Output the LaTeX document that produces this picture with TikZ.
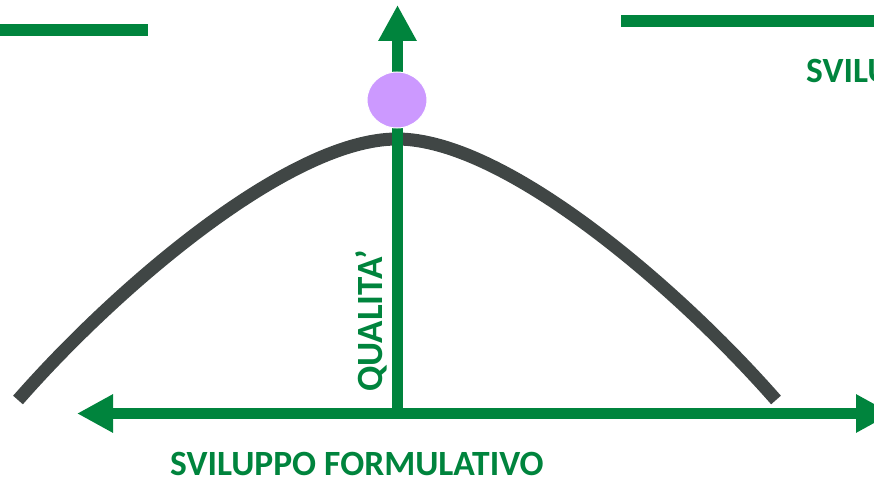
\documentclass[tikz,border=0pt]{standalone}
\usepackage{fontspec}
\setmainfont{Carlito}
\usetikzlibrary{arrows.meta,shapes.geometric}
\definecolor{dgreen}{RGB}{0,132,61}
\definecolor{dgray}{RGB}{64,70,69}
\definecolor{lilac}{RGB}{204,153,255}
\tikzset{
  greenbar/.style={draw=dgreen, line width=12pt},
  axisarrow/.style={draw=dgreen, line width=11pt, -{Triangle[length=36pt,width=36pt]}},
  curveline/.style={draw=dgray, line width=13pt},
  labeltext/.style={text=dgreen, font=\bfseries\fontsize{35.5}{35.5}\selectfont, inner sep=0pt},
}
\begin{document}
\begin{tikzpicture}[x=1pt,y=-1pt]
\useasboundingbox (0,0) rectangle (874,484);
\clip (0,0) rectangle (874,484);
% top bars
\coordinate (tl1) at (0,30);
\coordinate (tl2) at (148,30);
\coordinate (tr1) at (621,21);
\coordinate (tr2) at (874,21);
\draw[greenbar] (tl1) -- (tl2);
\draw[greenbar] (tr1) -- (tr2);
\node[labeltext, anchor=base west] (svil) at (806,83) {SVILUPPO FORMULATIVO};
% bell curve
\coordinate (cl) at (18,400);
\coordinate (cp) at (397,139);
\coordinate (cr) at (776,400);
\draw[curveline] (cl) .. controls (118,286) and (290,139) .. (cp)
                      .. controls (504,139) and (676,286) .. (cr);
% horizontal axis
\coordinate (hmid) at (397.5,413.5);
\coordinate (hl) at (77,413.5);
\coordinate (hr) at (892,413.5);
\draw[axisarrow] (hmid) -- (hl);
\draw[axisarrow] (hmid) -- (hr);
% vertical axis
\coordinate (vb) at (397.5,413);
\coordinate (vt) at (397.5,5);
\draw[axisarrow, line width=10.5pt] (vb) -- (vt);
% dot
\node[fill=lilac, ellipse, minimum width=60pt, minimum height=56pt, inner sep=0pt, draw=white, line width=1pt] (dot) at (397,100) {};
% labels
\node[labeltext, font=\bfseries\fontsize{37}{37}\selectfont, anchor=base west, rotate=90] (qual) at (382,392) {QUALITA’};
\node[labeltext, anchor=base west] (sf) at (170,475) {SVILUPPO FORMULATIVO};
\end{tikzpicture}
\end{document}
